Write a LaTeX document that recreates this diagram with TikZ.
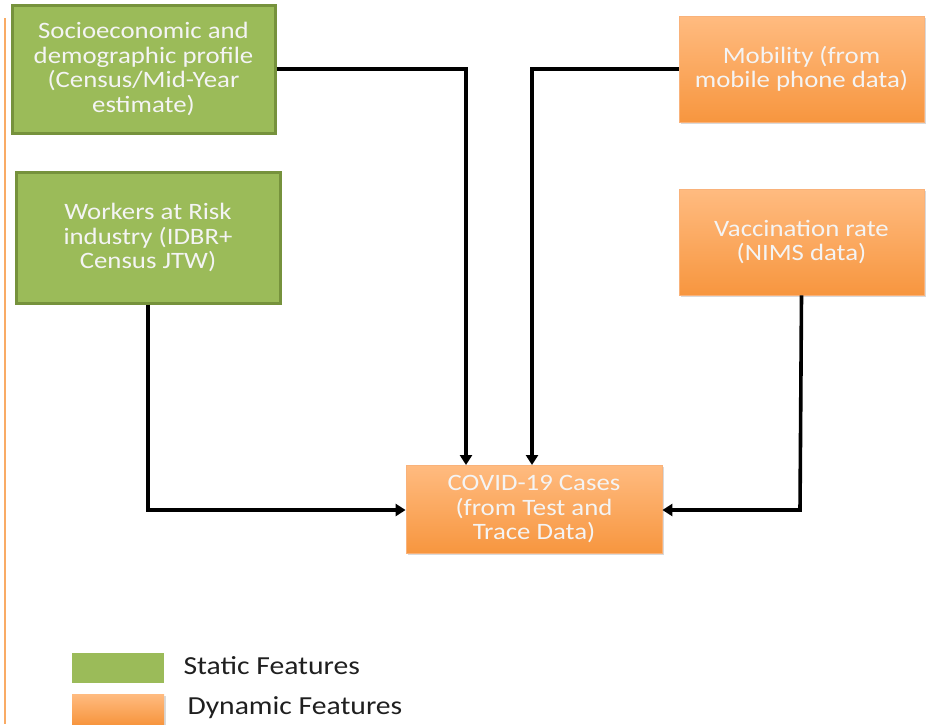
\documentclass[tikz,border=0pt]{standalone}
\usepackage{fontspec}
\setmainfont{Carlito}
\newfontfamily\stretchfont[FakeStretch=1.14]{Carlito}
\usetikzlibrary{arrows.meta,shadows}
\definecolor{gfill}{HTML}{9BBB59}
\definecolor{gdraw}{HTML}{76923C}
\definecolor{otop}{HTML}{FFBB80}
\definecolor{obot}{HTML}{F7963F}
\definecolor{odraw}{HTML}{F9B27A}
\definecolor{btext}{HTML}{F4F4F4}
\tikzset{
  staticbox/.style={draw=gdraw, line width=3pt, fill=gfill, text=btext, align=center, font=\stretchfont\fontsize{23.5}{24.5}\selectfont, inner sep=0pt},
  dynbox/.style={draw=odraw, line width=0.8pt, top color=otop, bottom color=obot, text=btext, align=center, font=\stretchfont\fontsize{23.5}{24.5}\selectfont, inner sep=0pt, drop shadow={shadow xshift=1.5pt, shadow yshift=-1.5pt, opacity=0.3}},
  conn/.style={line width=3.6pt, -{Triangle[length=10pt,width=12pt]}},
  legtext/.style={font=\stretchfont\fontsize{26}{28}\selectfont, anchor=west, text=black!88}
}
\begin{document}
\begin{tikzpicture}[x=1pt,y=-1pt]
\useasboundingbox (0,0) rectangle (928,724);
\draw[color=obot!80, line width=1.2pt] (5,18) -- (5,724);
% boxes
\node[staticbox, minimum width=263pt, minimum height=128pt] (soc) at (143.5,69) {Socioeconomic and\\demographic profile\\(Census/Mid-Year\\estimate)};
\node[staticbox, minimum width=264pt, minimum height=131pt] (work) at (148,237.5) {Workers at Risk\\industry (IDBR+\\Census JTW)};
\node[dynbox, minimum width=245pt, minimum height=106pt] (mob) at (801.5,69) {Mobility (from\\mobile phone data)};
\node[dynbox, minimum width=245pt, minimum height=106pt] (vac) at (801.5,242) {Vaccination rate\\(NIMS data)};
\node[dynbox, minimum width=256pt, minimum height=88pt] (cov) at (534,509) {COVID-19 Cases\\(from Test and\\Trace Data)};
% connectors
\draw[conn] (soc.east) -- (466,69) -- (466,465);
\draw[conn] (mob.west) -- (532,69) -- (532,465);
\draw[conn] (work.south) -- (148,510) -- (cov.west |- 0,510);
\draw[conn] (vac.south) -- (800,510) -- (cov.east |- 0,510);
% legend
\node[fill=gfill, minimum width=92pt, minimum height=30pt, inner sep=0pt] (lg) at (118,668) {};
\node[top color=otop, bottom color=obot, minimum width=92pt, minimum height=30pt, inner sep=0pt, drop shadow={shadow xshift=1.5pt, shadow yshift=-1.5pt, opacity=0.3}] (lo) at (118,709) {};
\node[legtext] (lgt) at (180,666) {Static Features};
\node[legtext] (lot) at (184,708) {Dynamic Features};
\end{tikzpicture}
\end{document}
